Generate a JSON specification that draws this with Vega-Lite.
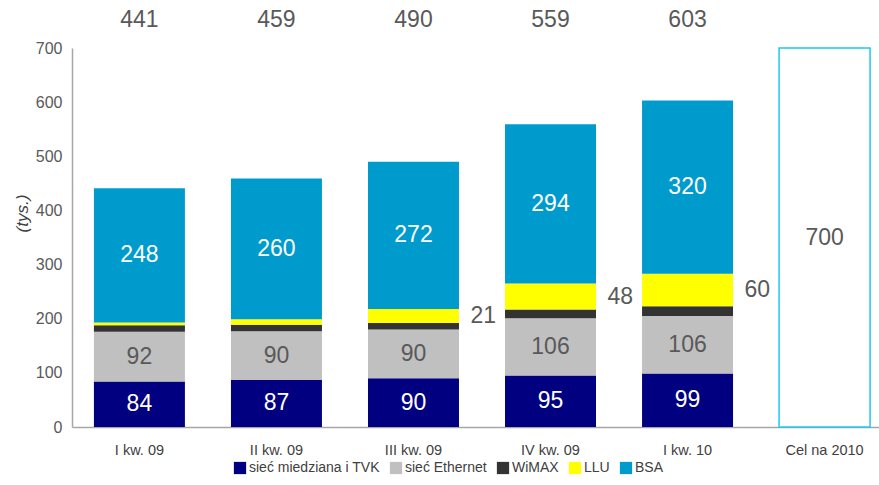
{
  "$schema": "https://vega.github.io/schema/vega-lite/v6.json",
  "autosize": {"type": "none"},
  "width": 820,
  "height": 379,
  "padding": {"left": 72, "top": 48, "right": 0, "bottom": 58},
  "background": "white",
  "config": {
    "view": {"stroke": null},
    "font": "Liberation Sans",
    "axis": {"grid": false, "ticks": false, "domainColor": "#A6A6A6", "domainWidth": 1.5}
  },
  "datasets": {
    "seg": [
      {"q": "I kw. 09", "s": "sieć miedziana i TVK", "k": 1, "v": 84, "label": "84"},
      {"q": "I kw. 09", "s": "sieć Ethernet", "k": 2, "v": 92, "label": "92"},
      {"q": "I kw. 09", "s": "WiMAX", "k": 3, "v": 12},
      {"q": "I kw. 09", "s": "LLU", "k": 4, "v": 5},
      {"q": "I kw. 09", "s": "BSA", "k": 5, "v": 248, "label": "248"},
      {"q": "II kw. 09", "s": "sieć miedziana i TVK", "k": 1, "v": 87, "label": "87"},
      {"q": "II kw. 09", "s": "sieć Ethernet", "k": 2, "v": 90, "label": "90"},
      {"q": "II kw. 09", "s": "WiMAX", "k": 3, "v": 12},
      {"q": "II kw. 09", "s": "LLU", "k": 4, "v": 10},
      {"q": "II kw. 09", "s": "BSA", "k": 5, "v": 260, "label": "260"},
      {"q": "III kw. 09", "s": "sieć miedziana i TVK", "k": 1, "v": 90, "label": "90"},
      {"q": "III kw. 09", "s": "sieć Ethernet", "k": 2, "v": 90, "label": "90"},
      {"q": "III kw. 09", "s": "WiMAX", "k": 3, "v": 12},
      {"q": "III kw. 09", "s": "LLU", "k": 4, "v": 26, "label": "21"},
      {"q": "III kw. 09", "s": "BSA", "k": 5, "v": 272, "label": "272"},
      {"q": "IV kw. 09", "s": "sieć miedziana i TVK", "k": 1, "v": 95, "label": "95"},
      {"q": "IV kw. 09", "s": "sieć Ethernet", "k": 2, "v": 106, "label": "106"},
      {"q": "IV kw. 09", "s": "WiMAX", "k": 3, "v": 16},
      {"q": "IV kw. 09", "s": "LLU", "k": 4, "v": 48, "label": "48"},
      {"q": "IV kw. 09", "s": "BSA", "k": 5, "v": 294, "label": "294"},
      {"q": "I kw. 10", "s": "sieć miedziana i TVK", "k": 1, "v": 99, "label": "99"},
      {"q": "I kw. 10", "s": "sieć Ethernet", "k": 2, "v": 106, "label": "106"},
      {"q": "I kw. 10", "s": "WiMAX", "k": 3, "v": 18},
      {"q": "I kw. 10", "s": "LLU", "k": 4, "v": 60, "label": "60"},
      {"q": "I kw. 10", "s": "BSA", "k": 5, "v": 320, "label": "320"}
    ],
    "tot": [
      {"q": "I kw. 09", "total": 441},
      {"q": "II kw. 09", "total": 459},
      {"q": "III kw. 09", "total": 490},
      {"q": "IV kw. 09", "total": 559},
      {"q": "I kw. 10", "total": 603}
    ],
    "goal": [
      {"q": "Cel na 2010", "total": 700}
    ]
  },
  "encoding": {
    "x": {
      "field": "q", "type": "nominal",
      "scale": {"domain": ["I kw. 09", "II kw. 09", "III kw. 09", "IV kw. 09", "I kw. 10", "Cel na 2010"], "paddingInner": 0.336, "paddingOuter": 0.16},
      "axis": {"title": null, "labelAngle": 0, "labelFontSize": 14.5, "labelColor": "#404040", "labelPadding": 16}
    }
  },
  "layer": [
    {
      "data": {"name": "seg"},
      "transform": [
        {"stack": "v", "groupby": ["q"], "sort": [{"field": "k"}], "as": ["y0", "y1"]}
      ],
      "mark": {"type": "bar"},
      "encoding": {
        "y": {"field": "y0", "type": "quantitative", "scale": {"domain": [0, 700], "nice": false},
          "axis": {"title": "(tys.)", "titleFontStyle": "italic", "titleFontWeight": "normal", "titleFontSize": 17, "titleColor": "#404040", "titlePadding": 4, "titleY": 165,
            "values": [0, 100, 200, 300, 400, 500, 600, 700], "labelFontSize": 16, "labelColor": "#595959", "labelPadding": 10}},
        "y2": {"field": "y1"},
        "color": {
          "field": "s", "type": "nominal",
          "scale": {"domain": ["sieć miedziana i TVK", "sieć Ethernet", "WiMAX", "LLU", "BSA"], "range": ["#000080", "#C0C0C0", "#333333", "#FFFF00", "#009BCD"]},
          "legend": {"title": null, "orient": "none", "direction": "horizontal", "legendX": 161, "legendY": 413,
            "symbolType": "square", "symbolSize": 150, "symbolStrokeWidth": 0, "symbolOpacity": 1,
            "labelFontSize": 14, "labelColor": "#404040", "labelOffset": 2, "columnPadding": 9}
        },
        "order": {"field": "k", "type": "quantitative"}
      }
    },
    {
      "data": {"name": "seg"},
      "transform": [
        {"stack": "v", "groupby": ["q"], "sort": [{"field": "k"}], "as": ["y0", "y1"]},
        {"calculate": "(datum.y0 + datum.y1) / 2", "as": "ym"},
        {"filter": "datum.s === 'sieć miedziana i TVK' || datum.s === 'BSA'"}
      ],
      "mark": {"type": "text", "fontSize": 23, "color": "white", "baseline": "middle", "align": "center"},
      "encoding": {
        "y": {"field": "ym", "type": "quantitative"},
        "text": {"field": "label"}
      }
    },
    {
      "data": {"name": "seg"},
      "transform": [
        {"stack": "v", "groupby": ["q"], "sort": [{"field": "k"}], "as": ["y0", "y1"]},
        {"calculate": "(datum.y0 + datum.y1) / 2", "as": "ym"},
        {"filter": "datum.s === 'sieć Ethernet'"}
      ],
      "mark": {"type": "text", "fontSize": 23, "color": "#595959", "baseline": "middle", "align": "center"},
      "encoding": {
        "y": {"field": "ym", "type": "quantitative"},
        "text": {"field": "label"}
      }
    },
    {
      "data": {"name": "seg"},
      "transform": [
        {"stack": "v", "groupby": ["q"], "sort": [{"field": "k"}], "as": ["y0", "y1"]},
        {"calculate": "(datum.y0 + datum.y1) / 2", "as": "ym"},
        {"filter": "datum.s === 'LLU' && isValid(datum.label)"}
      ],
      "mark": {"type": "text", "fontSize": 23, "color": "#595959", "baseline": "middle", "align": "left", "dx": 57},
      "encoding": {
        "y": {"field": "ym", "type": "quantitative"},
        "text": {"field": "label"}
      }
    },
    {
      "data": {"name": "tot"},
      "mark": {"type": "text", "fontSize": 23, "color": "#595959", "baseline": "middle", "align": "center", "dy": -28},
      "encoding": {
        "y": {"datum": 700, "type": "quantitative"},
        "text": {"field": "total", "type": "quantitative"}
      }
    },
    {
      "data": {"name": "goal"},
      "mark": {"type": "bar", "fill": "white", "stroke": "#1EC8F0", "strokeWidth": 1.5},
      "encoding": {
        "y": {"field": "total", "type": "quantitative"}
      }
    },
    {
      "data": {"name": "goal"},
      "transform": [{"calculate": "datum.total / 2", "as": "ym"}],
      "mark": {"type": "text", "fontSize": 23, "color": "#595959", "baseline": "middle", "align": "center"},
      "encoding": {
        "y": {"field": "ym", "type": "quantitative"},
        "text": {"field": "total", "type": "quantitative"}
      }
    }
  ]
}
